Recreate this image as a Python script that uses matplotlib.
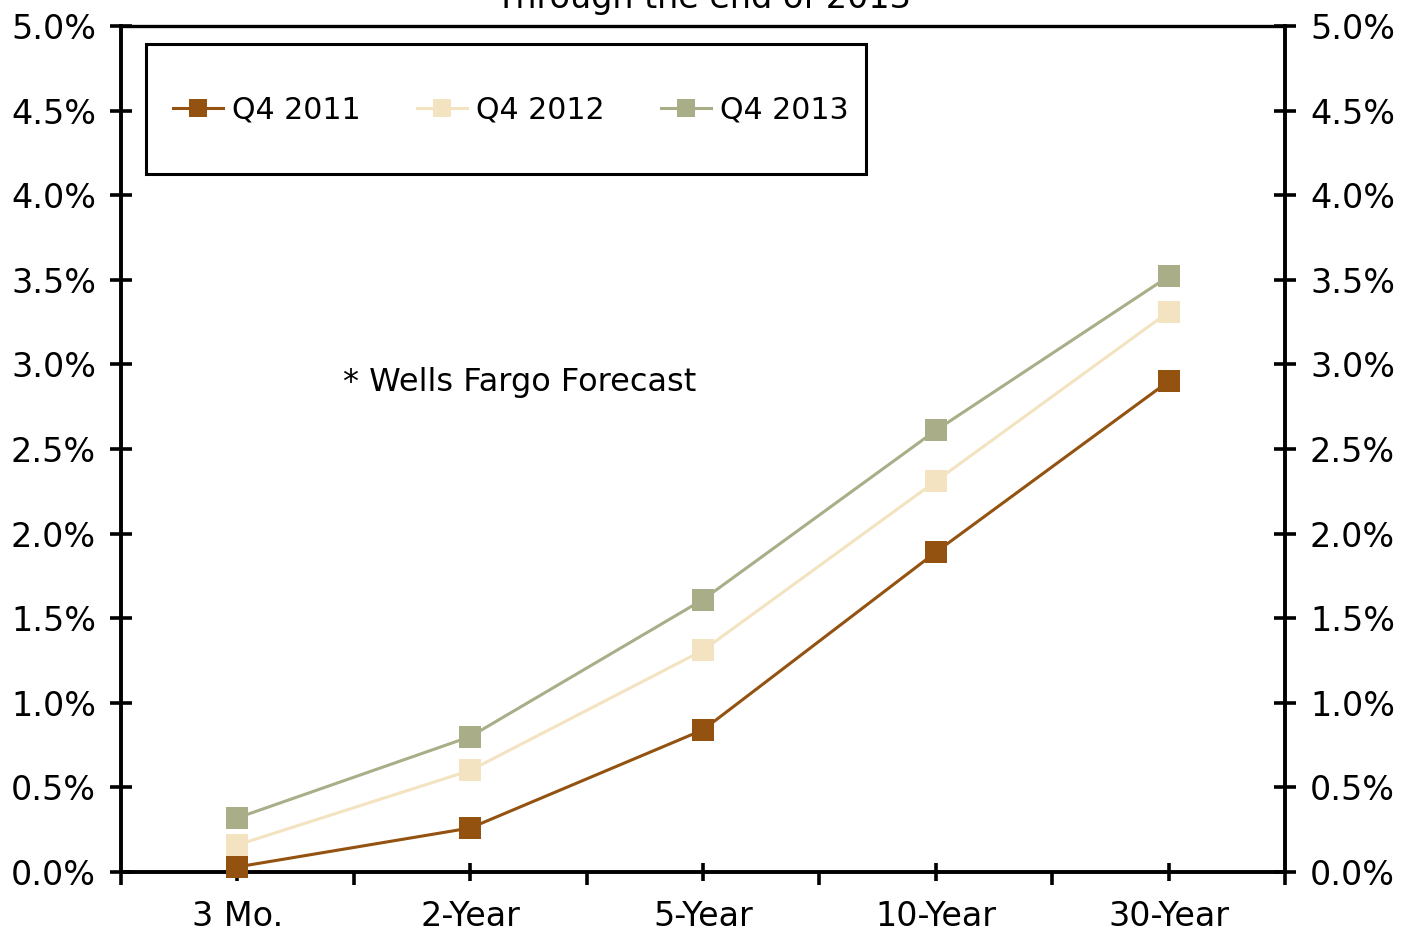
import matplotlib
matplotlib.use('Agg')
import matplotlib.pyplot as plt
from matplotlib.patches import Rectangle
from matplotlib.ticker import PercentFormatter

## Data ##
categories = ['3 Mo.', '2-Year', '5-Year', '10-Year', '30-Year']
q4_2011 = [0.03, 0.26, 0.84, 1.89, 2.90]
q4_2012 = [0.16, 0.60, 1.31, 2.31, 3.31]
q4_2013 = [0.32, 0.80, 1.61, 2.61, 3.52]
series_names = ['Q4 2011', 'Q4 2012', 'Q4 2013']
y_ticks = [0.0, 0.5, 1.0, 1.5, 2.0, 2.5, 3.0, 3.5, 4.0, 4.5, 5.0]

colors = ['#935210', '#F3E3C0', '#A9AE88']

plt.rcParams['font.family'] = ['DejaVu Sans']

fig = plt.figure(figsize=(14.04, 9.33), dpi=100)
ax = fig.add_axes([121 / 1404, 1 - 872 / 933, 1164 / 1404, 846 / 933])

x = list(range(len(categories)))
for vals, name, c in zip([q4_2011, q4_2012, q4_2013], series_names, colors):
    ax.plot(x, vals, '-s', color=c, linewidth=2.2, markersize=15.5,
            markeredgewidth=0, label=name, clip_on=False, zorder=3)

ax.set_xlim(-0.5, len(categories) - 0.5)
ax.set_ylim(0, 5)

## y axis on both sides ##
ax.set_yticks(y_ticks)
ax.yaxis.set_major_formatter(PercentFormatter(xmax=100, decimals=1))
ax.tick_params(axis='y', which='major', direction='inout', length=16, width=2.6,
               labelsize=24, pad=10, left=True, right=True,
               labelleft=True, labelright=True, colors='black')

## x axis: boundary ticks outward, category ticks crossing ##
ax.set_xticks([i - 0.5 for i in range(len(categories) + 1)])
ax.set_xticklabels([])
ax.set_xticks(x, labels=categories, minor=True)
ax.tick_params(axis='x', which='major', direction='out', length=9.5, width=2.6)
ax.tick_params(axis='x', which='minor', direction='inout', length=13, width=2.6,
               labelsize=24, pad=14)

for side in ['left', 'right', 'bottom']:
    ax.spines[side].set_linewidth(2.8)
ax.spines['top'].set_linewidth(2.4)

## legend box ##
box = Rectangle((25 / 1164, (872 - 174) / 846), 720 / 1164, 130 / 846,
                transform=ax.transAxes, fill=False, edgecolor='black',
                linewidth=2.2, zorder=4)
ax.add_patch(box)
ax.legend(loc='center left', bbox_to_anchor=((173 - 121) / 1164, (872 - 110) / 846),
          ncol=3, frameon=False, fontsize=21.6, handlelength=1.67,
          handletextpad=0.3, columnspacing=1.87, borderpad=0, borderaxespad=0,
          markerscale=0.85)

ax.text((343 - 121) / 1164, (872 - 391) / 846, '* Wells Fargo Forecast',
        transform=ax.transAxes, fontsize=23, va='baseline', ha='left')

ax.text(0.5, (872 - 8) / 846, 'Through the end of 2013', transform=ax.transAxes,
        fontsize=24, ha='center', va='baseline')

plt.savefig('out.png', dpi=100)
